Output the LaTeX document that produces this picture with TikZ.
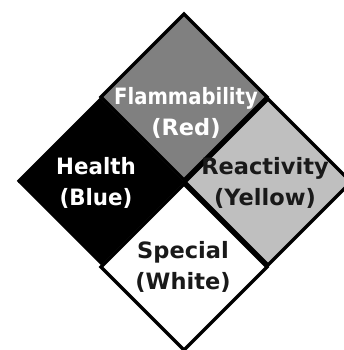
\documentclass[tikz,border=0pt]{standalone}
\usepackage{fontspec}
\setmainfont{DejaVu Sans}
\begin{document}
\begin{tikzpicture}[x=1pt,y=-1pt,
  sub/.style={draw=black,line width=3.5pt,line join=miter},
  lbl/.style={font=\fontsize{22.5}{31}\selectfont\bfseries,align=center,inner sep=0pt}]
\useasboundingbox (0,0) rectangle (343,350);
\def\h{83}
% Health
\path[fill=black] (101,182) ++(0,-\h) coordinate (ht) -- ++(-\h,\h) coordinate (hl) -- ++(\h,\h) -- ++(\h,-\h) -- cycle;
% Flammability
\draw[sub,fill=gray] (184,97) ++(0,-\h) coordinate (ft) -- ++(-\h,\h) -- ++(\h,\h) -- ++(\h,-\h) -- cycle;
% Reactivity
\draw[sub,fill=black!25] (268,182) ++(0,-\h) coordinate (rt) -- ++(-\h,\h) -- ++(\h,\h) -- ++(\h,-\h) -- cycle;
% Special
\draw[sub,fill=white] (184,267) ++(0,-\h) coordinate (st) -- ++(-\h,\h) -- ++(\h,\h) -- ++(\h,-\h) -- cycle;
% outer edge of health
\draw[line width=3.5pt] (hl) -- (ht);
\node[lbl,text=white] (fl) at (186,113) {\scalebox{0.87}[1]{Flammability}\\(Red)};
\node[lbl,text=white] (he) at (96,183) {\scalebox{0.95}[1]{Health}\\\scalebox{0.95}[1]{(Blue)}};
\node[lbl,text=black!90] (re) at (265,183) {Reactivity\\(Yellow)};
\node[lbl,text=black!90] (sp) at (183,267) {Special\\(White)};
\end{tikzpicture}
\end{document}
